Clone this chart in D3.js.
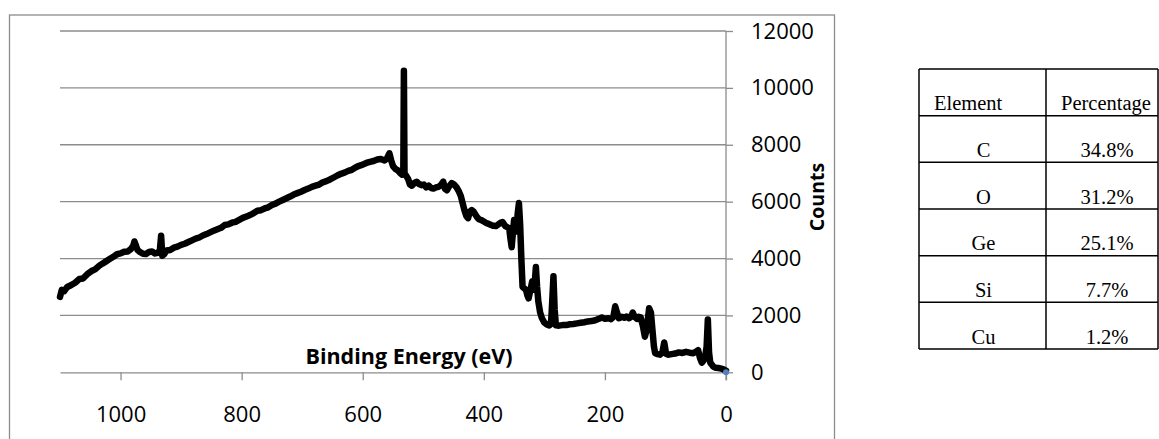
<!DOCTYPE html>
<html>
<head>
<meta charset="utf-8">
<script src="https://cdn.jsdelivr.net/npm/d3@7"></script>
<style>
  body { margin: 0; background: #fff; }
  svg { display: block; }
</style>
</head>
<body>
<div id="chart"></div>
<script>
// survey spectrum: [binding energy eV, counts]
var spectrum = [
  [1100,2650],[1097,2900],[1093,2850],[1088,3000],[1082,3060],[1075,3150],[1068,3280],[1062,3300],
  [1055,3450],[1048,3560],[1042,3620],[1035,3750],[1030,3820],[1024,3900],[1018,3980],[1012,4060],
  [1006,4150],[1000,4180],[994,4240],[988,4250],[983,4330],[979,4450],[977,4600],[975,4480],
  [972,4300],[968,4230],[963,4170],[958,4160],[953,4230],[948,4250],[943,4180],[938,4200],
  [935,4300],[933,4800],[931,4100],[928,4150],[924,4280],[918,4300],[912,4380],[906,4420],
  [900,4480],[894,4520],[888,4580],[882,4640],[876,4700],[870,4740],[864,4810],[858,4860],
  [852,4920],[846,4980],[840,5030],[834,5080],[828,5180],[822,5200],[816,5260],[810,5290],
  [804,5360],[798,5430],[792,5480],[786,5530],[780,5600],[774,5680],[768,5700],[762,5760],
  [756,5800],[750,5880],[744,5930],[738,6000],[732,6060],[726,6120],[720,6180],[714,6250],
  [708,6300],[702,6350],[696,6410],[690,6460],[684,6520],[678,6560],[672,6600],[666,6680],
  [660,6720],[654,6780],[648,6850],[642,6920],[636,6980],[630,7020],[624,7080],[618,7120],
  [612,7200],[606,7260],[600,7300],[594,7360],[588,7400],[582,7430],[576,7480],[570,7500],
  [564,7450],[560,7520],[556,7700],[553,7450],[550,7250],[546,7150],[542,7100],[538,7000],
  [535,6950],[533,7000],[532,10600],[531,7000],[528,6900],[525,6800],[522,6600],[519,6560],
  [515,6650],[511,6700],[507,6620],[503,6580],[499,6600],[495,6500],[491,6560],[487,6480],
  [483,6460],[479,6500],[475,6520],[471,6580],[467,6700],[464,6450],[461,6400],[457,6550],
  [453,6650],[449,6600],[445,6500],[441,6350],[438,6200],[435,5950],[432,5700],[429,5500],
  [426,5420],[423,5650],[420,5700],[417,5650],[414,5550],[411,5450],[408,5380],[404,5350],
  [400,5300],[396,5250],[392,5220],[388,5180],[384,5150],[380,5140],[376,5200],[372,5260],
  [369,5280],[365,5150],[361,5100],[358,5050],[356,4700],[354,4400],[352,4900],[350,5350],
  [348,5100],[346,4950],[344,5600],[342,5950],[340,5200],[338,4000],[336,3000],[333,2950],
  [330,2880],[328,2700],[326,2600],[323,2900],[320,3200],[318,2900],[316,3100],[314,3700],
  [312,3000],[310,2500],[307,2100],[304,1900],[300,1750],[296,1680],[292,1650],[289,1700],
  [287,2500],[285,3380],[283,2200],[281,1650],[276,1640],[270,1660],[264,1660],[258,1690],
  [252,1700],[246,1720],[240,1740],[234,1760],[228,1790],[222,1800],[216,1830],[210,1880],
  [205,1930],[200,1880],[194,1900],[190,1870],[186,1950],[183,2320],[180,2100],[177,1900],
  [172,1950],[168,1920],[164,1960],[160,1900],[157,1950],[154,2100],[151,1960],[147,1880],
  [144,1950],[141,1930],[137,1600],[134,1250],[131,1500],[127,2250],[124,2100],[121,1370],
  [119,900],[117,670],[113,640],[109,620],[105,700],[102,1050],[99,650],[96,620],
  [90,640],[84,660],[78,700],[72,680],[66,720],[60,690],[54,670],[50,720],
  [46,780],[43,500],[40,340],[37,420],[35,480],[32,900],[30,1860],[28,700],
  [26,340],[23,260],[21,200],[17,160],[13,150],[10,140],[6,120],[3,90],[0,60]
];
// second series: a single blue point at the origin
var marker = [[0, 0]];

var xTicks = [1000, 800, 600, 400, 200, 0];
var yTicks = [0, 2000, 4000, 6000, 8000, 10000, 12000];

// table beside the chart
var tableHead = ["Element", "Percentage"];
var elements = ["C", "O", "Ge", "Si", "Cu"];
var percentages = ["34.8%", "31.2%", "25.1%", "7.7%", "1.2%"];

var W = 1159, H = 439;
var gridColor = "#8c8c8c";
var fmt = d3.format("d");

var svg = d3.select("#chart").append("svg")
    .attr("width", W)
    .attr("height", H);

// chart frame (runs off the bottom of the picture)
svg.append("rect")
    .attr("x", 9.5).attr("y", 15)
    .attr("width", 825).attr("height", 460)
    .attr("fill", "none")
    .attr("stroke", gridColor)
    .attr("stroke-width", 1.3);

var x = d3.scaleLinear().domain([1100, 0]).range([60, 726]);
var y = d3.scaleLinear().domain([0, 12000]).range([372.3, 31]);

// horizontal gridlines
svg.append("g").selectAll("line")
    .data(yTicks.filter(function(d) { return d > 0; }))
    .enter().append("line")
    .attr("x1", x(1100)).attr("x2", x(0))
    .attr("y1", function(d) { return y(d); })
    .attr("y2", function(d) { return y(d); })
    .attr("stroke", gridColor)
    .attr("stroke-width", 1.3);

// y axis on the right
var yAxis = d3.axisRight(y).tickValues(yTicks).tickFormat(fmt).tickSize(7).tickPadding(18);
var gy = svg.append("g")
    .attr("transform", "translate(" + x(0) + ",0)")
    .call(yAxis);
gy.select(".domain").attr("stroke", gridColor).attr("stroke-width", 1.3)
    .attr("d", "M0," + y(12000) + "V" + (y(0) + 8));
gy.selectAll(".tick line").attr("stroke", gridColor).attr("stroke-width", 1.3);
gy.selectAll(".tick text")
    .attr("fill", "#000")
    .style("font-family", "'Open Sans', sans-serif")
    .style("font-size", "22px");

// x axis
var xAxis = d3.axisBottom(x).tickValues(xTicks).tickFormat(fmt).tickSize(8).tickPadding(26).tickSizeOuter(0);
var gx = svg.append("g")
    .attr("transform", "translate(0," + y(0) + ")")
    .call(xAxis);
gx.select(".domain").attr("stroke", gridColor).attr("stroke-width", 1.3);
gx.selectAll(".tick line").attr("stroke", gridColor).attr("stroke-width", 1.3);
gx.selectAll(".tick text")
    .attr("fill", "#000")
    .style("font-family", "'Open Sans', sans-serif")
    .style("font-size", "22px");

// axis titles
svg.append("text")
    .attr("x", 409).attr("y", 364)
    .attr("text-anchor", "middle")
    .style("font-family", "'Open Sans', sans-serif")
    .style("font-weight", "bold")
    .style("font-size", "21.5px")
    .text("Binding Energy (eV)");

svg.append("text")
    .attr("transform", "translate(824,197) rotate(-90)")
    .attr("text-anchor", "middle")
    .style("font-family", "'Open Sans', sans-serif")
    .style("font-weight", "bold")
    .style("font-size", "19.5px")
    .text("Counts");

// spectrum line
var line = d3.line()
    .x(function(d) { return x(d[0]); })
    .y(function(d) { return y(d[1]); });

svg.append("path")
    .datum(spectrum)
    .attr("d", line)
    .attr("fill", "none")
    .attr("stroke", "#000")
    .attr("stroke-width", 6.5)
    .attr("stroke-linejoin", "round")
    .attr("stroke-linecap", "round");

svg.selectAll(".pt")
    .data(marker)
    .enter().append("circle")
    .attr("class", "pt")
    .attr("cx", function(d) { return x(d[0]); })
    .attr("cy", function(d) { return y(d[1]); })
    .attr("r", 3)
    .attr("fill", "#4f81bd");

// ---- table ----
var colX = [919, 1046, 1158];
var rowY = d3.scaleLinear().domain([0, elements.length + 1]).range([69, 349]);
var tbl = svg.append("g");
var serif = "'Liberation Serif', 'Times New Roman', serif";

// horizontal rules
tbl.selectAll(".hr")
    .data(d3.range(elements.length + 2))
    .enter().append("line")
    .attr("x1", colX[0]).attr("x2", colX[2])
    .attr("y1", function(d) { return rowY(d); })
    .attr("y2", function(d) { return rowY(d); })
    .attr("stroke", "#000").attr("stroke-width", 1.5);

// vertical rules
tbl.selectAll(".vr")
    .data(colX)
    .enter().append("line")
    .attr("x1", function(d) { return d; }).attr("x2", function(d) { return d; })
    .attr("y1", rowY(0)).attr("y2", rowY(elements.length + 1))
    .attr("stroke", "#000").attr("stroke-width", 1.5);

// header cells
tbl.selectAll(".th")
    .data(tableHead)
    .enter().append("text")
    .attr("x", function(d, i) { return colX[i] + 15; })
    .attr("y", rowY(1) - 5.5)
    .style("font-family", serif)
    .style("font-size", "20.5px")
    .text(function(d) { return d; });

// body cells
tbl.selectAll(".el")
    .data(elements)
    .enter().append("text")
    .attr("x", (colX[0] + colX[1]) / 2 + 1)
    .attr("y", function(d, i) { return rowY(i + 2) - 5.5; })
    .attr("text-anchor", "middle")
    .style("font-family", serif)
    .style("font-size", "20.5px")
    .text(function(d) { return d; });

tbl.selectAll(".pc")
    .data(percentages)
    .enter().append("text")
    .attr("x", (colX[1] + colX[2]) / 2 + 5)
    .attr("y", function(d, i) { return rowY(i + 2) - 5.5; })
    .attr("text-anchor", "middle")
    .style("font-family", serif)
    .style("font-size", "20.5px")
    .text(function(d) { return d; });
</script>
</body>
</html>
